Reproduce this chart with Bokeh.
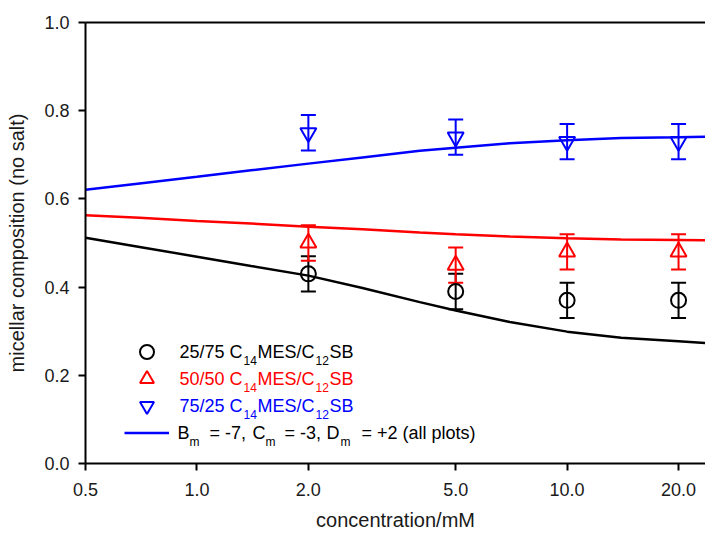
from bokeh.plotting import figure
from bokeh.models import (ColumnDataSource, Whisker, TeeHead, FixedTicker,
                          PrintfTickFormatter, LogAxis, Legend, LegendItem,
                          Label, Range1d)
from bokeh.embed import file_html
from bokeh.resources import INLINE

# ---------------- data ----------------
conc = [2.0, 5.0, 10.0, 20.0]
comp_25_75 = [0.43, 0.39, 0.37, 0.37]
err_25_75 = [0.04, 0.04, 0.04, 0.04]
comp_50_50 = [0.50, 0.45, 0.48, 0.48]
err_50_50 = [0.04, 0.04, 0.04, 0.04]
comp_75_25 = [0.75, 0.74, 0.73, 0.73]
err_75_25 = [0.04, 0.04, 0.04, 0.04]

model_conc = [0.5, 0.7, 1.0, 1.4, 2.0, 2.8, 4.0, 5.0, 7.0, 10.0, 14.0, 20.0, 23.6]
model_25_75 = [0.512, 0.491, 0.469, 0.448, 0.426, 0.398, 0.366, 0.347,
               0.321, 0.299, 0.285, 0.277, 0.273]
model_50_50 = [0.563, 0.557, 0.550, 0.544, 0.537, 0.531, 0.524, 0.520,
               0.515, 0.511, 0.508, 0.507, 0.506]
model_75_25 = [0.621, 0.635, 0.650, 0.665, 0.680, 0.694, 0.709, 0.716,
               0.726, 0.733, 0.738, 0.740, 0.741]

x_ticks = [0.5, 1.0, 2.0, 5.0, 10.0, 20.0]
y_ticks = [0.0, 0.2, 0.4, 0.6, 0.8, 1.0]

legend_rows = ["25/75", "50/50", "75/25"]
model_label = ["B", "m", "= -7,", "C", "m", "= -3,", "D", "m", "= +2 (all plots)"]

FONT = "Liberation Sans"
BLACK = "#000000"
RED = "#ff0000"
BLUE = "#0000ff"
TXT = "#1a1a1a"

# ---------------- figure ----------------
p = figure(width=705, height=533, x_axis_type="log",
           x_range=Range1d(0.5, 23.65), y_range=Range1d(0.0, 1.0),
           output_backend="svg", toolbar_location=None,
           min_border_left=85, min_border_right=0,
           min_border_top=22, min_border_bottom=70)
p.xgrid.visible = False
p.ygrid.visible = False
p.outline_line_color = None

for ax in (p.xaxis[0], p.yaxis[0]):
    ax.axis_line_width = 2
    ax.axis_line_color = BLACK
    ax.major_tick_line_width = 2
    ax.major_tick_line_color = BLACK
    ax.major_tick_out = 7
    ax.major_tick_in = 0
    ax.minor_tick_line_color = None
    ax.major_label_text_font = FONT
    ax.major_label_text_font_size = "18px"
    ax.major_label_text_color = TXT
    ax.axis_label_text_font = FONT
    ax.axis_label_text_font_style = "normal"
    ax.axis_label_text_color = TXT
    ax.formatter = PrintfTickFormatter(format="%.1f")

p.xaxis[0].ticker = FixedTicker(ticks=x_ticks)
p.yaxis[0].ticker = FixedTicker(ticks=y_ticks)
p.xaxis[0].major_label_standoff = 12
p.yaxis[0].major_label_standoff = 9
p.xaxis[0].axis_label = "concentration/mM"
p.xaxis[0].axis_label_text_font_size = "20px"
p.xaxis[0].axis_label_standoff = 10
p.yaxis[0].axis_label = "micellar composition (no salt)"
p.yaxis[0].axis_label_text_font_size = "20px"
p.yaxis[0].axis_label_standoff = 13

top = LogAxis(ticker=FixedTicker(ticks=[]), axis_line_width=2, axis_line_color=BLACK,
              major_tick_line_color=None, minor_tick_line_color=None,
              major_label_text_font_size="0px")
p.add_layout(top, "above")

# ---------------- model curves ----------------
p.line(model_conc, model_25_75, line_color=BLACK, line_width=2.5)
p.line(model_conc, model_50_50, line_color=RED, line_width=2.5)
r_model = p.line(model_conc, model_75_25, line_color=BLUE, line_width=2.5)

# ---------------- data points with error bars ----------------
series = [
    (comp_25_75, err_25_75, BLACK, "circle", 15),
    (comp_50_50, err_50_50, RED, "triangle", 16),
    (comp_75_25, err_75_25, BLUE, "inverted_triangle", 16),
]
marker_renderers = []
for vals, errs, col, mk, sz in series:
    src = ColumnDataSource(dict(
        conc=conc, val=vals,
        upper=[v + e for v, e in zip(vals, errs)],
        lower=[v - e for v, e in zip(vals, errs)]))
    w = Whisker(base="conc", upper="upper", lower="lower", source=src,
                line_color=col, line_width=2,
                upper_head=TeeHead(size=15, line_color=col, line_width=2),
                lower_head=TeeHead(size=15, line_color=col, line_width=2))
    p.add_layout(w)
    r = p.scatter(x="conc", y="val", source=src, marker=mk, size=sz,
                  fill_color=None, line_color=col, line_width=2)
    marker_renderers.append(r)

# ---------------- legend (symbols): one single-item legend per row ----------------
FRAME_LEFT = 85
FRAME_BOTTOM = 463
row_centers = [351, 378, 405, 432]
for r, c in zip(marker_renderers + [r_model], row_centers):
    lg = Legend(items=[LegendItem(label="", renderers=[r])],
                location=(39, FRAME_BOTTOM - (c + 17.5)),
                glyph_width=45, glyph_height=35, label_height=35, label_width=0,
                label_standoff=0, spacing=0, padding=0, margin=0,
                border_line_color=None, background_fill_alpha=0)
    p.add_layout(lg)


# ---------------- legend (texts, with subscripts) ----------------
def put(text, px, py, size, color):
    p.add_layout(Label(x=px - FRAME_LEFT, y=FRAME_BOTTOM - py,
                       x_units="screen", y_units="screen", text=text,
                       text_font=FONT, text_font_size=size, text_color=color,
                       text_baseline="middle", text_align="left"))


row_cols = [BLACK, RED, BLUE]
for name, col, cy in zip(legend_rows, row_cols, row_centers[:3]):
    put(name + " C", 179, cy, "18px", col)
    put("14", 243, cy + 9, "12px", col)
    put("MES/C", 257, cy, "18px", col)
    put("12", 315, cy + 9, "12px", col)
    put("SB", 329, cy, "18px", col)

mx = [177, 189, 209, 252, 265, 284, 326, 340, 361]
msub = [False, True, False, False, True, False, False, True, False]
for t, x, s in zip(model_label, mx, msub):
    if s:
        put(t, x, row_centers[3] + 9, "12px", BLACK)
    else:
        put(t, x, row_centers[3], "18px", BLACK)

open("out.html", "w").write(file_html(p, INLINE))
